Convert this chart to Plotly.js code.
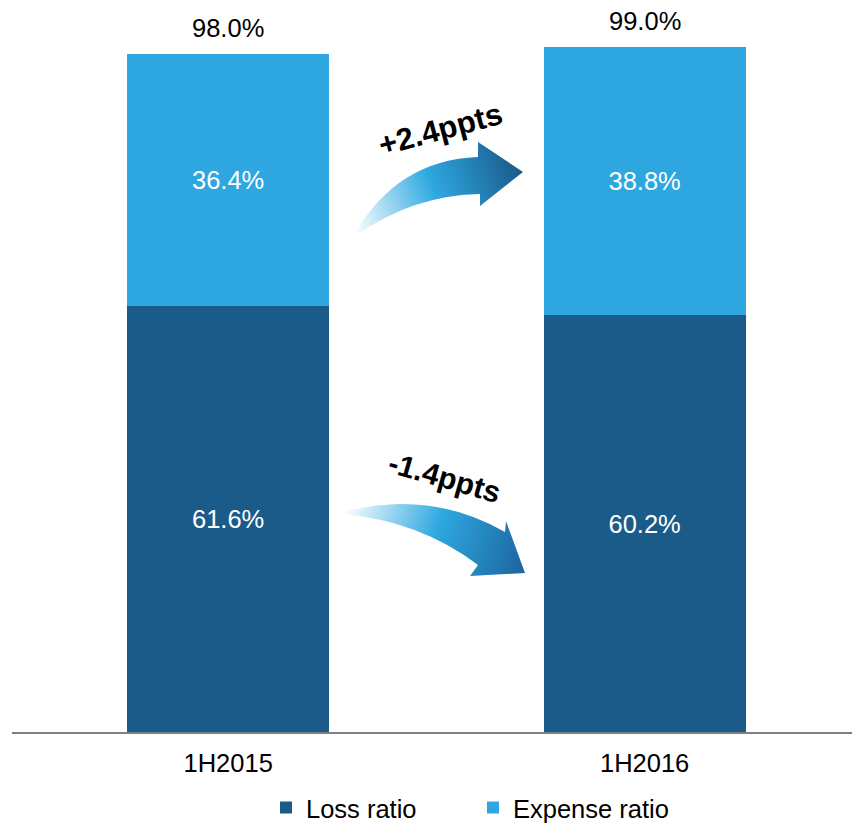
<!DOCTYPE html>
<html>
<head>
<meta charset="utf-8">
<script src="https://cdn.plot.ly/plotly-3.0.1.min.js"></script>
<style>html,body{margin:0;padding:0;background:#fff}#chart{width:852px;height:823px}</style>
</head>
<body>
<div id="chart"></div>
<script>
// ---- data ----
var categories = ["1H2015", "1H2016"];
var lossRatio = [61.6, 60.2];
var expenseRatio = [36.4, 38.8];
var seriesNames = ["Loss ratio", "Expense ratio"];
var changeLabels = ["+2.4ppts", "-1.4ppts"];

var totals = categories.map(function(c, i){ return Math.round((lossRatio[i] + expenseRatio[i]) * 10) / 10; });
function pct(v){ return v.toFixed(1) + "%"; }

var FONT = "Liberation Sans, Arial, sans-serif";
var FS = 25.5;
var W = 852, H = 823, ML = 12, MR = 0, MT = 0, MB = 91;
var PW = W - ML - MR, PH = H - MT - MB;
function px(xp){ return (xp - ML) / PW; }
function py(yp){ return (MT + PH - yp) / PH; }

var lossColor = "#1B5B8A", expColor = "#2EA7E0";

var traces = [
  {type: "bar", name: seriesNames[0], x: categories, y: lossRatio,
   marker: {color: lossColor}, width: 0.485,
   text: lossRatio.map(pct), textposition: "inside", insidetextanchor: "middle",
   textfont: {color: "#ffffff", size: FS, family: FONT}, hoverinfo: "none"},
  {type: "bar", name: seriesNames[1], x: categories, y: expenseRatio,
   marker: {color: expColor}, width: 0.485,
   text: expenseRatio.map(pct), textposition: "inside", insidetextanchor: "middle",
   textfont: {color: "#ffffff", size: FS, family: FONT}, hoverinfo: "none"}
];

var annotations = categories.map(function(c, i){
  return {x: c, y: totals[i], xref: "x", yref: "y", text: pct(totals[i]),
    showarrow: false, yanchor: "bottom", yshift: 10,
    font: {size: FS, color: "#000000", family: FONT}};
});
annotations.push({x: px(440), y: py(129), xref: "paper", yref: "paper",
  text: "<b>" + changeLabels[0] + "</b>", showarrow: false, textangle: -15,
  xanchor: "center", yanchor: "middle", font: {size: 31, color: "#000", family: FONT}});
annotations.push({x: px(445), y: py(478), xref: "paper", yref: "paper",
  text: "<b>" + changeLabels[1] + "</b>", showarrow: false, textangle: 16,
  xanchor: "center", yanchor: "middle", font: {size: 30, color: "#000", family: FONT}});

function svgURI(vb, inner){
  var s = '<svg xmlns="http://www.w3.org/2000/svg" width="' + vb[2] + '" height="' + vb[3] +
    '" viewBox="' + vb.join(" ") + '" preserveAspectRatio="none">' + inner + '</svg>';
  return "data:image/svg+xml;charset=utf-8," + encodeURIComponent(s);
}
var upBox = [340, 130, 200, 120];
var upSvg = '<defs><linearGradient id="g1" gradientUnits="userSpaceOnUse" x1="355" y1="233" x2="522" y2="172">' +
  '<stop offset="0" stop-color="#ffffff"/><stop offset="0.5" stop-color="#2EA8E0"/><stop offset="1" stop-color="#1A5A8A"/></linearGradient></defs>' +
  '<path d="M355 233 Q398 160 478 157 L478 142 L523 172 L480 206 L480 194 Q415 195 358 234 Z" fill="url(#g1)"/>';
var dnBox = [335, 480, 200, 105];
var dnSvg = '<defs><linearGradient id="g2" gradientUnits="userSpaceOnUse" x1="343" y1="512" x2="523" y2="571">' +
  '<stop offset="0" stop-color="#ffffff"/><stop offset="0.5" stop-color="#2EA8E0"/><stop offset="1" stop-color="#1C66A0"/></linearGradient></defs>' +
  '<path d="M343 512 Q430 489 505 532 L506 521 L525 573 L470 576 L478 565 Q420 521 343 514 Z" fill="url(#g2)"/>';

var images = [upBox, dnBox].map(function(b, i){
  return {source: svgURI(b, i === 0 ? upSvg : dnSvg), xref: "paper", yref: "paper",
    x: px(b[0]), y: py(b[1]), sizex: b[2] / PW, sizey: b[3] / PH,
    xanchor: "left", yanchor: "top", sizing: "stretch", layer: "above"};
});

var layout = {
  width: W, height: H,
  margin: {l: ML, r: MR, t: MT, b: MB, pad: 0, autoexpand: false},
  paper_bgcolor: "#ffffff", plot_bgcolor: "#ffffff",
  barmode: "stack",
  showlegend: true,
  legend: {orientation: "h", x: px(266), xanchor: "left", y: py(808), yanchor: "middle",
    traceorder: "normal", font: {size: FS, color: "#000", family: FONT},
    entrywidth: 162, entrywidthmode: "pixels", bgcolor: "rgba(0,0,0,0)"},
  xaxis: {range: [-0.519, 1.498], showline: true, linecolor: "#7f7f7f", linewidth: 2,
    ticks: "", showgrid: false, zeroline: false, ticklabelstandoff: 7,
    tickfont: {size: FS, color: "#000", family: FONT}, fixedrange: true, automargin: false},
  yaxis: {range: [0, 105.8], visible: false, showgrid: false, zeroline: false, fixedrange: true, automargin: false},
  annotations: annotations,
  images: images,
  font: {family: FONT}
};

Plotly.newPlot("chart", traces, layout, {displayModeBar: false, staticPlot: true});
</script>
</body>
</html>
